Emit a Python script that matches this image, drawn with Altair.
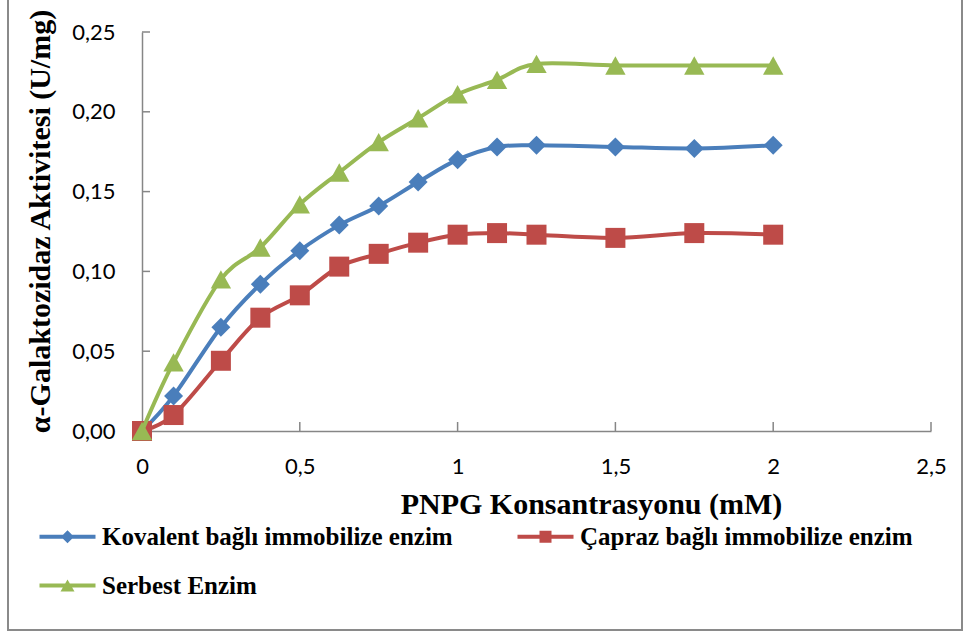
import altair as alt
import pandas as pd

# ---- data ----
x_mm = [0, 0.1, 0.25, 0.375, 0.5, 0.625, 0.75, 0.875, 1.0, 1.125, 1.25, 1.5, 1.75, 2.0]
kovalent = [0, 0.022, 0.065, 0.092, 0.113, 0.129, 0.141, 0.156, 0.170, 0.178, 0.179, 0.178, 0.177, 0.179]
capraz = [0, 0.010, 0.044, 0.071, 0.085, 0.103, 0.111, 0.118, 0.123, 0.124, 0.123, 0.121, 0.124, 0.123]
serbest = [0, 0.043, 0.095, 0.115, 0.142, 0.162, 0.181, 0.196, 0.211, 0.220, 0.230, 0.229, 0.229, 0.229]
series_names = ["Kovalent bağlı immobilize enzim", "Çapraz bağlı immobilize enzim", "Serbest Enzim"]
colors = ["#4A7EBB", "#BE4B48", "#98B954"]
x_ticks = [0, 0.5, 1, 1.5, 2, 2.5]
y_ticks = [0, 0.05, 0.10, 0.15, 0.20, 0.25]
x_title = "PNPG Konsantrasyonu (mM)"
y_title = "α-Galaktozidaz Aktivitesi (U/mg)"

rows = []
for name, vals in zip(series_names, [kovalent, capraz, serbest]):
    for xv, yv in zip(x_mm, vals):
        rows.append({"x": xv, "y": yv, "series": name})
df = pd.DataFrame(rows)

# marker paths (unit = sqrt(size)/2)
marker_paths = [
    "M0,-0.95L0.95,0L0,0.95L-0.95,0Z",
    "M-1,-1L1,-1L1,1L-1,1Z",
    "M0,-0.92L1.02,0.92L-1.02,0.92Z",
]
# legend symbol paths: line + small marker
legend_paths = [
    "M-2.8,-0.2L2.8,-0.2L2.8,0.2L-2.8,0.2Z M0,-0.65L0.65,0L0,0.65L-0.65,0Z",
    "M-2.8,-0.2L2.8,-0.2L2.8,0.2L-2.8,0.2Z M-0.6,-0.6L0.6,-0.6L0.6,0.6L-0.6,0.6Z",
    "M-2.8,-0.2L2.8,-0.2L2.8,0.2L-2.8,0.2Z M0,-0.6L0.7,0.6L-0.7,0.6Z",
]

W, H = 789, 399
SERIF = "Liberation Serif"
SANS = "Lato"

legend = alt.Legend(
    title=None,
    orient="none",
    direction="horizontal",
    legendX=-87,
    legendY=492,
    columns=2,
    columnPadding=64,
    rowPadding=23,
    padding=0,
    symbolSize=400,
    symbolStrokeWidth=0,
    symbolOpacity=1,
    labelOffset=22,
    labelLimit=600,
    labelFont=SERIF,
    labelFontWeight="bold",
    labelFontSize=25,
    labelColor="black",
)

xscale = alt.Scale(domain=[0, 2.5], nice=False, zero=False)
yscale = alt.Scale(domain=[0, 0.25], nice=False)
cscale = alt.Scale(domain=series_names, range=colors)
legend_shape_scale = alt.Scale(domain=series_names, range=legend_paths)

x_axis = alt.Axis(
    values=x_ticks, grid=False, ticks=False, labelFlush=False,
    domainColor="#868686", domainWidth=1.5,
    labelExpr="replace(toString(datum.value), '.', ',')",
    labelFont=SANS, labelFontSize=22, labelColor="black", labelPadding=25,
    title=x_title, titleFont=SERIF, titleFontWeight="bold", titleFontSize=30,
    titleColor="black", titleX=449, titleY=82, titleAlign="center",
    titleBaseline="alphabetic",
)
y_axis = alt.Axis(
    values=y_ticks, grid=False, ticks=False, labelFlush=False,
    domainColor="#868686", domainWidth=1.5,
    labelExpr="replace(format(datum.value, '.2f'), '.', ',')",
    labelFont=SANS, labelFontSize=22, labelColor="black", labelPadding=27,
    title=y_title, titleFont=SERIF, titleFontWeight="bold", titleFontSize=30,
    titleColor="black", titleX=-102, titleY=189, titleAngle=270,
    titleAlign="center", titleBaseline="middle",
)

X = alt.X("x:Q", scale=xscale, axis=x_axis, title=x_title)
Y = alt.Y("y:Q", scale=yscale, axis=y_axis, title=y_title)

base = alt.Chart(df)

# invisible layer that only carries the legend (line + marker symbols)
legend_layer = base.mark_point(filled=True, size=400, opacity=0).encode(
    x=X, y=Y,
    color=alt.Color("series:N", scale=cscale, legend=legend, sort=series_names),
    shape=alt.Shape("series:N", scale=legend_shape_scale, legend=legend, sort=series_names),
)

series_layers = []
for name, col, path in zip(series_names, colors, marker_paths):
    sub = base.transform_filter(alt.datum.series == name)
    series_layers.append(
        sub.mark_line(interpolate="cardinal", strokeWidth=4, color=col).encode(x=X, y=Y)
    )
    series_layers.append(
        sub.mark_point(filled=True, size=400, opacity=1, shape=path, color=col).encode(x=X, y=Y)
    )

ytick_df = pd.DataFrame({"y": y_ticks[1:]})
xtick_df = pd.DataFrame({"x": x_ticks[1:]})

yticks = alt.Chart(ytick_df).mark_rule(color="#868686", strokeWidth=1.5).encode(
    y=Y, x=alt.value(0), x2=alt.value(8),
)
xticks = alt.Chart(xtick_df).mark_rule(color="#868686", strokeWidth=1.5).encode(
    x=X, y=alt.value(H - 9), y2=alt.value(H),
)

border = alt.Chart(pd.DataFrame({"a": [0]})).mark_rect(
    fillOpacity=0, stroke="#8a8a8a", strokeWidth=2
).encode(
    x=alt.value(-134), x2=alt.value(820), y=alt.value(-50), y2=alt.value(598)
)

chart = (
    alt.layer(legend_layer, border, xticks, yticks, *series_layers)
    .properties(
        width=W, height=H,
        autosize=alt.AutoSizeParams(type="none"),
        padding={"left": 142, "top": 32, "right": 33, "bottom": 204},
        background="white",
    )
    .configure_view(stroke=None)
)

chart.save("out.html", embed_options={"renderer": "svg", "actions": False})
